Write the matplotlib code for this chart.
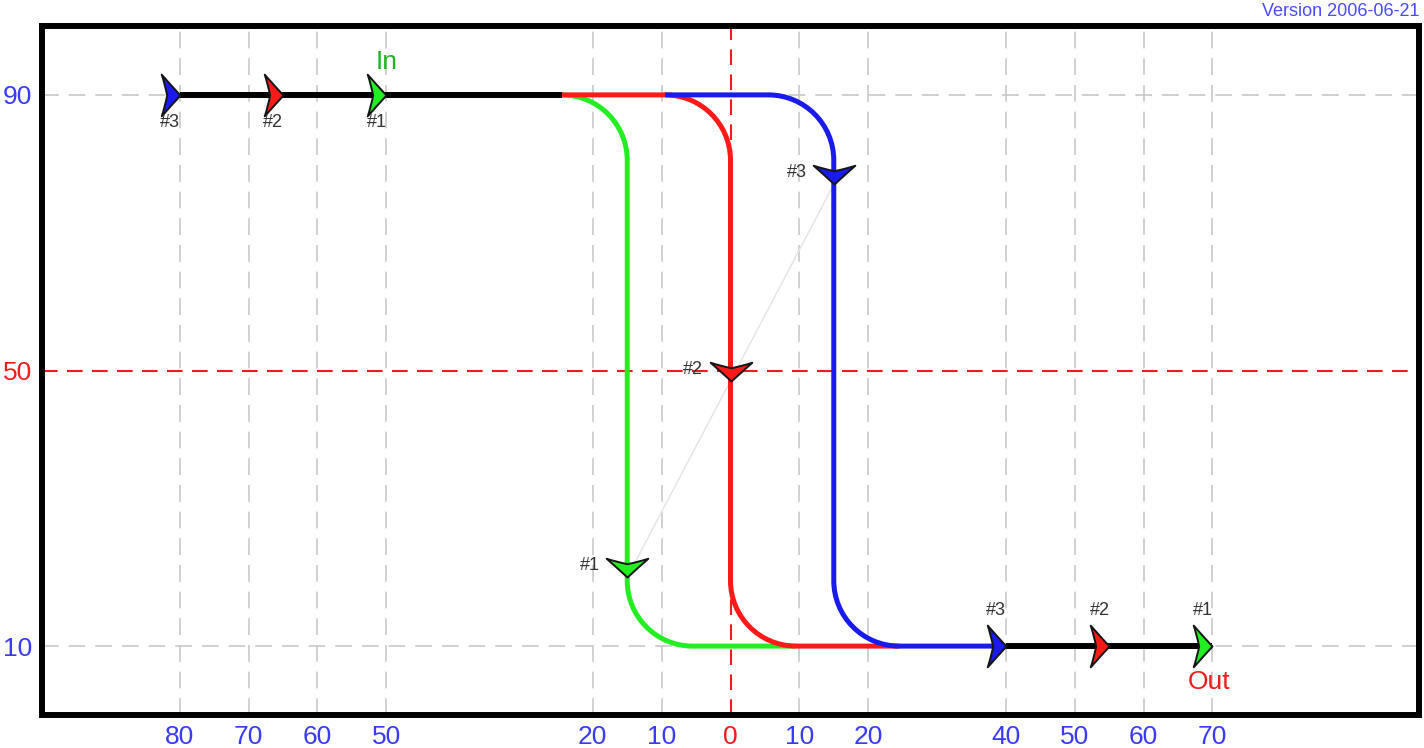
import matplotlib.pyplot as plt
from matplotlib.path import Path
from matplotlib.patches import PathPatch
from matplotlib.markers import MarkerStyle

plt.rcParams["font.family"] = ["Liberation Sans", "DejaVu Sans"]

# --- data -------------------------------------------------------------
x_ticks = [-80, -70, -60, -50, -20, -10, 0, 10, 20, 40, 50, 60, 70]
x_tick_labels = ["80", "70", "60", "50", "20", "10", "0", "10", "20",
                 "40", "50", "60", "70"]
y_ticks = [10, 50, 90]
y_tick_labels = ["10", "50", "90"]

signal_names = ["#1", "#2", "#3"]
signal_colors = ["#22ee22", "#ff1a1a", "#1a1aee"]
level_high = 90
level_low = 10
switch_x = [-15, 0, 15]      # x of the vertical flank of each signal
in_x = [-50, -65, -80]       # arrow positions on the input line
out_x = [70, 55, 40]         # arrow positions on the output line
mid_y = [20, 48.5, 77]       # arrow positions on the flanks
corner_r = 9.5

blue_txt = "#3a3aff"
red_txt = "#ee1c1c"
grid_gray = "#c8c8c8"

# --- figure -----------------------------------------------------------
fig = plt.figure(figsize=(14.24, 7.48), dpi=100)
ax = fig.add_axes([42 / 1424, 1 - 715 / 748, 1377 / 1424, 689 / 748])
ax.set_xlim(-100, 100)
ax.set_ylim(0, 100)

for s in ax.spines.values():
    s.set_linewidth(4.3)
    s.set_color("black")

ax.set_xticks(x_ticks)
ax.set_xticklabels(x_tick_labels)
ax.set_yticks(y_ticks)
ax.set_yticklabels(y_tick_labels)
ax.tick_params(length=0, labelsize=19, pad=7)
for t in ax.get_xticklabels():
    t.set_color(red_txt if t.get_text() == "0" else blue_txt)
for t in ax.get_yticklabels():
    t.set_color(red_txt if t.get_text() == "50" else blue_txt)

# grid lines
for xv in x_ticks:
    if xv == 0:
        ax.axvline(xv, color=red_txt, lw=1.5, dashes=(7.5, 4.5), zorder=1)
    else:
        ax.axvline(xv, color=grid_gray, lw=1.2, dashes=(10, 6), zorder=1)
for yv in y_ticks:
    if yv == 50:
        ax.axhline(yv, color=red_txt, lw=1.5, dashes=(7.5, 4.5), zorder=1)
    else:
        ax.axhline(yv, color=grid_gray, lw=1.2, dashes=(10, 6), zorder=1)

# faint line through the flank arrows
ax.plot(switch_x, mid_y, color="#e4e4e4", lw=1, zorder=2)


def signal_path(x0, sx, x1, r, hi, lo):
    k = 0.5523 * r
    verts = [(x0, hi), (sx - r, hi),
             (sx - r + k, hi), (sx, hi - r + k), (sx, hi - r),
             (sx, lo + r),
             (sx, lo + r - k), (sx + r - k, lo), (sx + r, lo),
             (x1, lo)]
    codes = [Path.MOVETO, Path.LINETO,
             Path.CURVE4, Path.CURVE4, Path.CURVE4,
             Path.LINETO,
             Path.CURVE4, Path.CURVE4, Path.CURVE4,
             Path.LINETO]
    return Path(verts, codes)


n = len(switch_x)
for i in range(n):
    x0 = switch_x[max(i - 1, 0)] - corner_r
    x1 = switch_x[i + 1] + corner_r if i < n - 1 else min(out_x)
    p = signal_path(x0, switch_x[i], x1, corner_r, level_high, level_low)
    ax.add_patch(PathPatch(p, fill=False, edgecolor=signal_colors[i],
                           lw=3.6, capstyle="butt", zorder=3 + i * 0.1))

# common black lines (input / output)
ax.plot([min(in_x), switch_x[0] - corner_r], [level_high] * 2,
        color="black", lw=4.3, solid_capstyle="butt", zorder=4)
ax.plot([min(out_x), max(out_x)], [level_low] * 2,
        color="black", lw=4.3, solid_capstyle="butt", zorder=4)

# arrow marker shapes
C3 = Path.CURVE3
right_verts = [(0, 0), (-0.48, 0.52), (-0.9, 1), (-0.74, 0.5), (-0.64, 0),
               (-0.74, -0.5), (-0.9, -1), (-0.48, -0.52), (0, 0), (0, 0)]
codes = [Path.MOVETO, C3, C3, C3, C3, C3, C3, C3, C3, Path.CLOSEPOLY]
arrow_right = MarkerStyle(Path(right_verts, codes))
arrow_down = MarkerStyle(Path([(y, -x) for x, y in right_verts], codes))

for i in range(n):
    c = signal_colors[i]
    kw = dict(ms=30, ls="none", mfc=c, mec="#151515", mew=1.4, zorder=6)
    ax.plot(in_x[i], level_high, marker=arrow_right, **kw)
    ax.plot(out_x[i], level_low, marker=arrow_right, **kw)
    ax.plot(switch_x[i], mid_y[i], marker=arrow_down, **kw)

    lab = dict(fontsize=13, color="#333333", ha="center", va="center",
               zorder=7)
    ax.text(in_x[i] - 1.4, level_high - 4, signal_names[i], **lab)
    ax.text(out_x[i] - 1.4, level_low + 5.1, signal_names[i], **lab)
    ax.text(switch_x[i] - 5.4, mid_y[i] + 1.7, signal_names[i], **lab)

ax.text(in_x[0], level_high + 4.8, "In", color="#1fb51f", fontsize=19,
        ha="center", va="center", zorder=7)
ax.text(out_x[0] - 0.5, level_low - 5.2, "Out", color=red_txt, fontsize=19,
        ha="center", va="center", zorder=7)

fig.text(0.997, 0.985, "Version 2006-06-21", color="#4a4aff", fontsize=13,
         ha="right", va="center")

fig.savefig("out.png", dpi=100)
